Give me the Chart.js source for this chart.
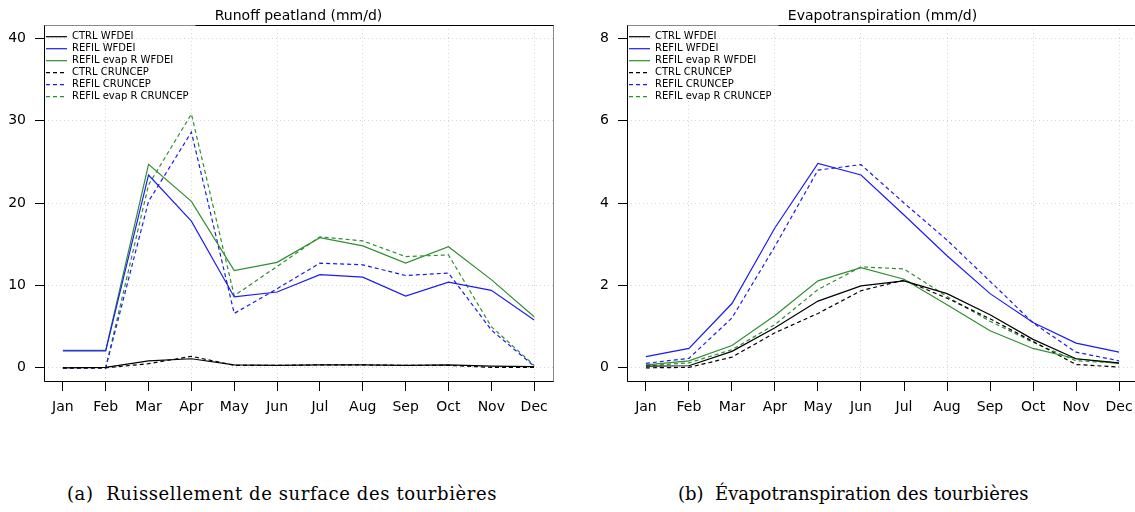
<!DOCTYPE html>
<html>
<head>
<meta charset="utf-8">
<script src="https://cdn.jsdelivr.net/npm/chart.js@4/dist/chart.umd.min.js"></script>
<style>
  html, body { margin: 0; padding: 0; background: #fff; }
  body { width: 1135px; height: 512px; position: relative; overflow: hidden; }
  canvas { position: absolute; top: 0; }
  #runoff { left: 0; }
  #evap { left: 568px; }
  .caption {
    position: absolute; top: 484px; line-height: 20px;
    font-family: 'DejaVu Serif', serif; font-size: 18px; color: #000; white-space: pre;
  }
</style>
</head>
<body>
<canvas id="runoff" width="575" height="430"></canvas>
<canvas id="evap" width="575" height="430"></canvas>
<div class="caption" style="left:67px; letter-spacing:0.6px">(a)  Ruissellement de surface des tourbières</div>
<div class="caption" style="left:678px">(b)  Évapotranspiration des tourbières</div>
<script>
'use strict'

// months and series
const months = ['Jan', 'Feb', 'Mar', 'Apr', 'May', 'Jun', 'Jul', 'Aug', 'Sep', 'Oct', 'Nov', 'Dec']
const seriesNames = ['CTRL WFDEI', 'REFIL WFDEI', 'REFIL evap R WFDEI', 'CTRL CRUNCEP', 'REFIL CRUNCEP', 'REFIL evap R CRUNCEP']

// runoff peatland (mm/d)
const ctrlWfdeiRunoff = [0.0, 0.05, 0.85, 1.1, 0.35, 0.3, 0.35, 0.35, 0.3, 0.35, 0.2, 0.15]
const refilWfdeiRunoff = [2.05, 2.05, 23.4, 17.8, 8.6, 9.2, 11.3, 11.0, 8.7, 10.4, 9.4, 5.8]
const refilEvapWfdeiRunoff = [2.13, 2.13, 24.7, 20.2, 11.8, 12.8, 15.8, 14.8, 12.7, 14.7, 10.7, 6.2]
const ctrlCruncepRunoff = [0.0, 0.0, 0.5, 1.4, 0.3, 0.3, 0.35, 0.35, 0.3, 0.3, 0.05, 0.05]
const refilCruncepRunoff = [0.0, 0.0, 20.2, 28.6, 6.6, 9.6, 12.7, 12.5, 11.2, 11.5, 4.6, 0.2]
const refilEvapCruncepRunoff = [0.0, 0.0, 22.2, 30.8, 8.75, 12.3, 15.9, 15.4, 13.5, 13.7, 5.0, 0.3]
const runoffTicks = [0, 10, 20, 30, 40]

// evapotranspiration (mm/d)
const ctrlWfdeiEt = [0.04, 0.05, 0.40, 0.97, 1.62, 1.99, 2.11, 1.80, 1.29, 0.69, 0.22, 0.12]
const refilWfdeiEt = [0.27, 0.47, 1.56, 3.40, 4.96, 4.68, 3.71, 2.72, 1.80, 1.10, 0.60, 0.38]
const refilEvapWfdeiEt = [0.07, 0.17, 0.54, 1.27, 2.11, 2.43, 2.15, 1.53, 0.90, 0.47, 0.22, 0.10]
const ctrlCruncepEt = [0.00, 0.01, 0.26, 0.85, 1.32, 1.87, 2.13, 1.69, 1.19, 0.64, 0.08, 0.02]
const refilCruncepEt = [0.11, 0.23, 1.21, 2.95, 4.80, 4.93, 4.00, 3.10, 2.10, 1.09, 0.38, 0.17]
const refilEvapCruncepEt = [0.05, 0.12, 0.44, 1.05, 1.90, 2.45, 2.40, 1.73, 1.13, 0.62, 0.17, 0.12]
const etTicks = [0, 2, 4, 6, 8]

// styles
const lineColors = ['#000000', '#1c1cf0', '#2f8f2f', '#000000', '#1c1cf0', '#2f8f2f']
const lineDashes = [[], [], [], [4, 3], [4, 3], [4, 3]]
const fontFamily = "'DejaVu Sans', sans-serif"

// R-like box: grey frame, black left/bottom axis lines, dark part of top edge
const rBox = {
  id: 'rBox',
  afterDatasetsDraw(chart, args, opts) {
    const ctx = chart.ctx
    const a = chart.chartArea
    const l = Math.round(a.left) + 0.5, r = Math.round(a.right) + 0.5
    const t = Math.round(a.top) + 0.5, b = Math.round(a.bottom) + 0.5
    ctx.save()
    ctx.lineWidth = 1
    ctx.strokeStyle = '#8a8a8a'
    ctx.strokeRect(l, t, r - l, b - t)
    ctx.strokeStyle = '#000'
    ctx.beginPath()
    ctx.moveTo(l, t); ctx.lineTo(l, b); ctx.lineTo(r, b)
    ctx.moveTo(Math.round(opts.darkFrom) + 0.5, t); ctx.lineTo(r, t)
    ctx.stroke()
    ctx.restore()
  }
}

// legend items with the dataset dash (point style would drop it)
function legendLabels(chart) {
  return Chart.defaults.plugins.legend.labels.generateLabels(chart).map(function(item) {
    const ds = chart.data.datasets[item.datasetIndex]
    item.lineDash = ds.borderDash
    item.strokeStyle = ds.borderColor
    item.lineWidth = 1.2
    return item
  })
}

function makeChart(id, title, values, yTicks, axisWidth, padRight, darkFrom) {
  const yRange = yTicks[yTicks.length - 1] - yTicks[0]
  const xRange = months.length - 1
  return new Chart(document.getElementById(id).getContext('2d'), {
    type: 'line',
    data: {
      datasets: values.map(function(vals, k) {
        return {
          label: seriesNames[k],
          data: vals.map(function(v, i) { return { x: i + 1, y: v } }),
          borderColor: lineColors[k],
          backgroundColor: lineColors[k],
          borderDash: lineDashes[k],
          borderWidth: 1.2,
          pointRadius: 0,
          tension: 0
        }
      })
    },
    options: {
      responsive: false,
      animation: false,
      layout: { padding: { left: 0, top: 0, right: padRight, bottom: 9 } },
      scales: {
        x: {
          type: 'linear',
          min: 1 - 0.04 * xRange,
          max: months.length + 0.04 * xRange,
          afterBuildTicks: function(axis) { axis.ticks = months.map(function(m, i) { return { value: i + 1 } }) },
          afterFit: function(axis) { axis.height = 40 },
          ticks: {
            autoSkip: false, maxRotation: 0, padding: 8, color: '#000',
            font: { family: fontFamily, size: 14 },
            callback: function(v) { return months[v - 1] }
          },
          grid: {
            color: function(c) { return c.tick && c.tick.value % 2 === 0 ? '#d6d6d6' : 'rgba(0,0,0,0)' },
            tickColor: '#000', tickLength: 10, lineWidth: 1
          },
          border: { display: false, dash: [1, 3] }
        },
        y: {
          min: yTicks[0] - 0.04 * yRange,
          max: yTicks[yTicks.length - 1] + 0.04 * yRange,
          afterBuildTicks: function(axis) { axis.ticks = yTicks.map(function(v) { return { value: v } }) },
          afterFit: function(axis) { axis.width = axisWidth },
          ticks: { padding: 9, color: '#000', font: { family: fontFamily, size: 14 } },
          grid: { color: '#d6d6d6', tickColor: '#000', tickLength: 9, lineWidth: 1 },
          border: { display: false, dash: [1, 3] }
        }
      },
      plugins: {
        title: {
          display: true, text: title, color: '#000', fullSize: false,
          font: { family: fontFamily, size: 14, weight: 'normal', lineHeight: 1.2 },
          padding: { top: 8, bottom: 0.2 }
        },
        legend: {
          position: 'chartArea', align: 'start',
          // empty title only pushes the items down into the plot box
          title: { display: true, text: '', padding: { top: 28.7, bottom: 0 }, font: { size: 1, lineHeight: 1 } },
          labels: {
            usePointStyle: true, pointStyle: 'line', pointStyleWidth: 21, padding: 2,
            color: '#000', font: { family: fontFamily, size: 10, lineHeight: 1.21 },
            generateLabels: legendLabels
          }
        },
        tooltip: { enabled: false },
        rBox: { darkFrom: darkFrom }
      }
    },
    plugins: [rBox]
  })
}

makeChart('runoff', 'Runoff peatland (mm/d)',
  [ctrlWfdeiRunoff, refilWfdeiRunoff, refilEvapWfdeiRunoff, ctrlCruncepRunoff, refilCruncepRunoff, refilEvapCruncepRunoff],
  runoffTicks, 44, 22, 195)
makeChart('evap', 'Evapotranspiration (mm/d)',
  [ctrlWfdeiEt, refilWfdeiEt, refilEvapWfdeiEt, ctrlCruncepEt, refilCruncepEt, refilEvapCruncepEt],
  etTicks, 59, 5, 778 - 568)
</script>
</body>
</html>
